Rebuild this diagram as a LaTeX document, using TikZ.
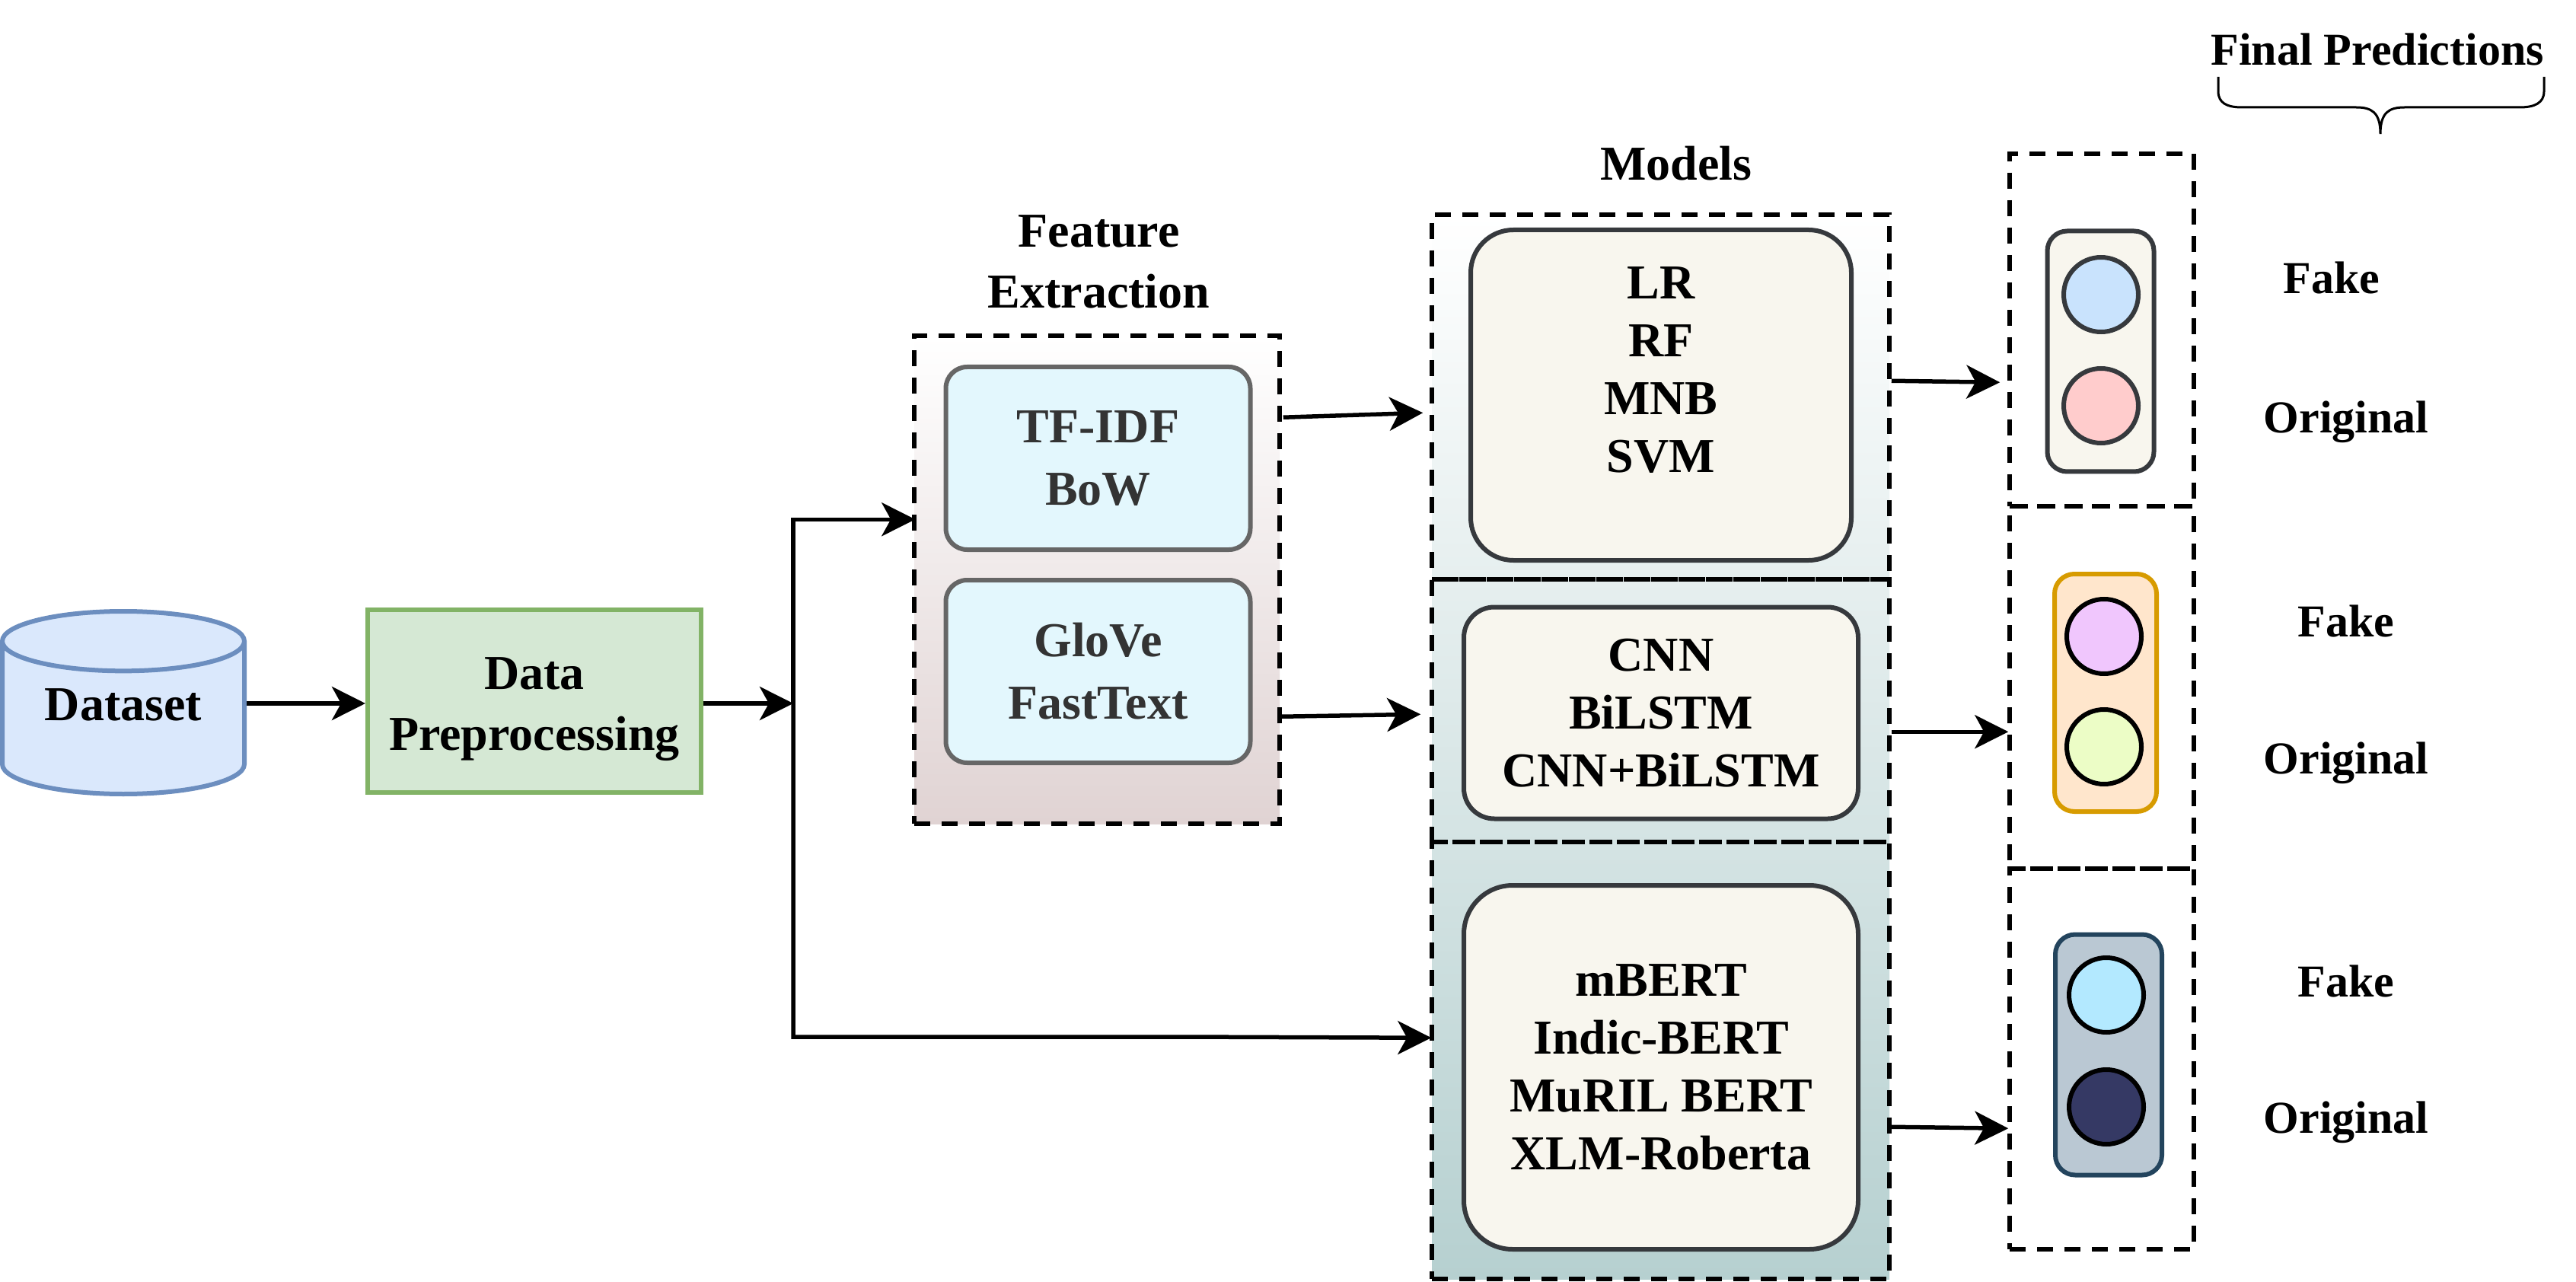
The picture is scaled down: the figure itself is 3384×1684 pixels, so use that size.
\documentclass[tikz,border=0pt]{standalone}
\usepackage{fontspec}
\setmainfont{Liberation Serif}
\usetikzlibrary{arrows.meta,calc,shapes.geometric}

\definecolor{cylfill}{HTML}{DAE8FC}
\definecolor{cylline}{HTML}{6C8EBF}
\definecolor{prefill}{HTML}{D5E8D4}
\definecolor{preline}{HTML}{82B366}
\definecolor{featfill}{HTML}{E3F7FD}
\definecolor{featbottom}{HTML}{E0D3D3}
\definecolor{modelfill}{HTML}{F8F6EE}
\definecolor{modelline}{HTML}{36393D}
\definecolor{modelbottom}{HTML}{B6D0D0}
\definecolor{orangeline}{HTML}{D79B00}
\definecolor{orangefill}{HTML}{FFE6CC}
\definecolor{slateline}{HTML}{23445D}
\definecolor{slatefill}{HTML}{BAC8D3}

\tikzset{
  bigtext/.style={font=\bfseries\fontsize{32}{38}\selectfont,align=center},
  smalltext/.style={font=\bfseries\fontsize{30}{36}\selectfont,align=center},
  dashbox/.style={draw,line width=2.75pt,dash pattern=on 10.5pt off 7.5pt},
  featbox/.style={draw=black!60,line width=3pt,fill=featfill,rounded corners=14pt,
    minimum width=200pt,minimum height=120pt,text=black!80,bigtext,
    font=\bfseries\fontsize{32}{41}\selectfont},
  modelbox/.style={draw=modelline,line width=3pt,fill=modelfill,bigtext},
  pillbox/.style={line width=3pt,rounded corners=13pt,minimum height=158pt},
  dotnode/.style={circle,draw=#1,line width=3pt,minimum size=49pt,inner sep=0pt},
  arrow/.style={line width=2.75pt,-{Stealth[length=22pt,width=22pt,inset=6pt]}}
}

\begin{document}
\begin{tikzpicture}[x=0.5pt,y=-0.5pt]
                      \useasboundingbox (0,0) rectangle (3384,1684);

                      \node[cylinder,shape border rotate=90,aspect=0.38,draw=cylline,fill=cylfill,line width=3pt,
                          minimum width=159pt,minimum height=120pt,inner sep=0pt,bigtext,anchor=shape center] (dataset) at (162,923) {\rule[-19pt]{0pt}{1pt}Dataset};
                      \node[draw=preline,fill=prefill,line width=3pt,minimum width=219pt,minimum height=120pt,
                          bigtext,font=\bfseries\fontsize{32}{40}\selectfont] (preproc) at (702,921) {\rule{0pt}{32pt}Data\\Preprocessing};

                      \node[dashbox,top color=white,bottom color=featbottom,minimum width=240pt,minimum height=320.5pt] (features) at (1441,761.5) {};
                      \node[featbox] (tfidf) at (1442.5,602) {TF-IDF\\BoW};
                      \node[featbox] (glove) at (1442.5,882) {GloVe\\FastText};
                      \node[bigtext,font=\bfseries\fontsize{32}{40}\selectfont] (feattitle) at (1443.5,344) {Feature\\Extraction};

                      \shade[top color=white,bottom color=modelbottom] (1881,282) rectangle (2482,1680);
                      \node[dashbox,minimum width=300.5pt,minimum height=239.5pt] (modelsa) at (2181.5,521.5) {};
                      \node[dashbox,minimum width=300.5pt,minimum height=172.5pt] (modelsb) at (2181.5,933.5) {};
                      \node[dashbox,minimum width=300.5pt,minimum height=287pt] (modelsc) at (2181.5,1393) {};
                      \node[bigtext] (modeltitle) at (2202,215) {Models};
                      \node[modelbox,rounded corners=28pt,minimum width=250pt,minimum height=217pt] (classic) at (2182,519) {LR\\RF\\MNB\\SVM\\[-5pt]\mbox{}};
                      \node[modelbox,rounded corners=20pt,minimum width=259pt,minimum height=139pt] (deep) at (2182,936.5) {CNN\\BiLSTM\\CNN+BiLSTM};
                      \node[modelbox,rounded corners=32pt,minimum width=259pt,minimum height=239pt] (bert) at (2182,1402) {mBERT\\Indic-BERT\\MuRIL BERT\\XLM-Roberta};

                      \foreach \name/\y/\h in {outa/433.5/231.5,outb/903/238,outc/1391/250} {
                          \node[dashbox,minimum width=121pt,minimum height=\h pt] (\name) at (2761,\y) {};
                      }
                      \node[pillbox,draw=modelline,fill=modelfill,minimum width=70pt] (pilla) at (2759.5,461.5) {};
                      \node[pillbox,draw=orangeline,fill=orangefill,minimum width=67pt,minimum height=156pt] (pillb) at (2766,910) {};
                      \node[pillbox,draw=slateline,fill=slatefill,minimum width=70pt] (pillc) at (2770,1385.5) {};

                      \node[dotnode=modelline,fill={rgb,255:red,201;green,227;blue,253}] (fakea) at (2760,387) {};
                      \node[dotnode=modelline,fill={rgb,255:red,255;green,204;blue,204}] (origa) at (2760,533) {};
                      \node[dotnode=black,fill={rgb,255:red,240;green,198;blue,253}] (fakeb) at (2764,836) {};
                      \node[dotnode=black,fill={rgb,255:red,236;green,253;blue,198}] (origb) at (2764,981) {};
                      \node[dotnode=black,fill={rgb,255:red,179;green,233;blue,255}] (fakec) at (2767,1307) {};
                      \node[dotnode=black,fill={rgb,255:red,53;green,57;blue,100}] (origc) at (2767,1454) {};

                      \foreach \name/\x/\y/\word in {labfa/3063/365/Fake,labfb/3082/816/Fake,labfc/3082/1289/Fake,laboa/3082/554/Original,labob/3082/1002/Original,laboc/3082/1474/Original} {
                          \node[smalltext] (\name) at (\x,\y) {\word};
                      }
                      \node[smalltext] (finaltitle) at (3123,65) {Final Predictions};
                      \draw[line width=1.5pt] (2914,101) -- (2914,120) .. controls (2914,135) and (2925,141) .. (2945,141) -- (3095,141)
                          .. controls (3115,141) and (3127,147) .. (3127,176) .. controls (3127,147) and (3139,141) .. (3159,141) -- (3310,141)
                          .. controls (3330,141) and (3342,135) .. (3342,120) -- (3342,101);

                      \coordinate (split) at (1042,925);
                      \coordinate (bend) at (1550,1362);
                      \path[arrow] ($(dataset.east |- preproc.east)+(0,3)$) edge[arrow] ($(preproc.west)+(0,3)$)
                      ($(preproc.east)+(0,3)$)                edge[arrow] ($(preproc.east -| split)+(0,3)$)
                      ($(features.north east)+(2,110)$)       edge[arrow] ($(modelsa.north west)+(-9,263)$)
                      ($(features.north east)+(0,503)$)       edge[arrow] ($(modelsb.north west)+(-12,180)$)
                      ($(modelsa.north east)+(0,221)$)        edge[arrow] ($(outa.north west)+(-10,303)$)
                      ($(modelsb.north east)+(0,203)$)        edge[arrow] ($(outb.north west)+(1,299)$)
                      ($(modelsc.north east)+(0,377)$)        edge[arrow] ($(outc.north west)+(1,344)$);
                      \draw[arrow] (split) |- ($(features.north west)+(4,244)$);
                      \draw[arrow] (split) |- (bend) -- ($(modelsc.north west)+(2,260)$);
                  \end{tikzpicture}
\end{document}
